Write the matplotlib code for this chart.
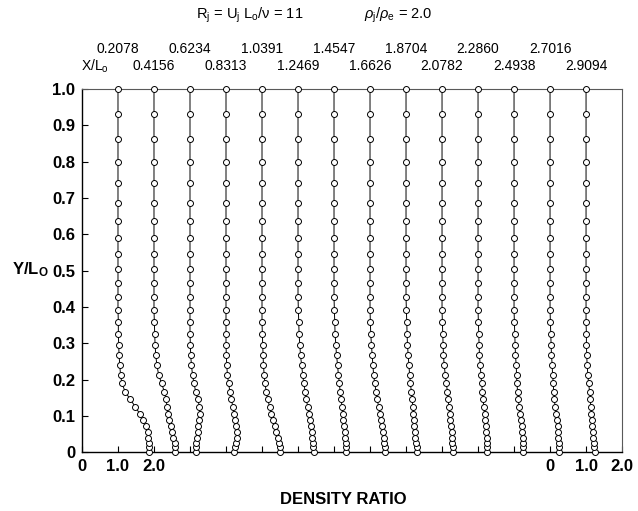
from matplotlib import pyplot as plt
import numpy as np

# Streamwise stations X/Lo, one density profile for each
stations = ["0.2078", "0.4156", "0.6234", "0.8313", "1.0391", "1.2469", "1.4547",
            "1.6626", "1.8704", "2.0782", "2.2860", "2.4938", "2.7016", "2.9094"]

# Y/Lo of the points (wall to free stream)
y_grid = [0.000, 0.014, 0.027, 0.041, 0.056, 0.072, 0.089, 0.107, 0.126, 0.146,
          0.167, 0.190, 0.214, 0.240, 0.267, 0.296, 0.326, 0.358, 0.392, 0.428,
          0.466, 0.506, 0.547, 0.590, 0.636, 0.686, 0.741, 0.800, 0.862, 0.930,
          1.000]

# Density ratio at each station, same order as y_grid
rho_0 = [1.85, 1.86, 1.86, 1.84, 1.82, 1.78, 1.70, 1.60, 1.48, 1.34, 1.20, 1.11,
         1.07, 1.05, 1.03, 1.02, 1.01, 1.01, 1.00, 1.00, 1.00, 1.00, 1.00, 1.00,
         1.00, 1.00, 1.00, 1.00, 1.00, 1.00, 1.00]
rho_1 = [1.58, 1.58, 1.57, 1.54, 1.50, 1.46, 1.42, 1.38, 1.36, 1.34, 1.29, 1.21,
         1.13, 1.08, 1.05, 1.03, 1.02, 1.01, 1.00, 1.00, 1.00, 1.00, 1.00, 1.00,
         1.00, 1.00, 1.00, 1.00, 1.00, 1.00, 1.00]
rho_2 = [1.17, 1.17, 1.18, 1.19, 1.21, 1.23, 1.25, 1.27, 1.26, 1.22, 1.16, 1.11,
         1.07, 1.04, 1.02, 1.01, 1.00, 1.00, 1.00, 1.00, 1.00, 1.00, 1.00, 1.00,
         1.00, 1.00, 1.00, 1.00, 1.00, 1.00, 1.00]
rho_3 = [1.22, 1.26, 1.29, 1.30, 1.30, 1.28, 1.25, 1.22, 1.19, 1.15, 1.11, 1.07,
         1.04, 1.02, 1.01, 1.00, 1.00, 1.00, 1.00, 1.00, 1.00, 1.00, 1.00, 1.00,
         1.00, 1.00, 1.00, 1.00, 1.00, 1.00, 1.00]
rho_4 = [1.50, 1.49, 1.47, 1.44, 1.40, 1.36, 1.31, 1.26, 1.21, 1.16, 1.12, 1.08,
         1.06, 1.04, 1.03, 1.02, 1.01, 1.00, 1.00, 1.00, 1.00, 1.00, 1.00, 1.00,
         1.00, 1.00, 1.00, 1.00, 1.00, 1.00, 1.00]
rho_5 = [1.44, 1.43, 1.41, 1.40, 1.38, 1.36, 1.33, 1.30, 1.27, 1.23, 1.20, 1.16,
         1.13, 1.10, 1.07, 1.05, 1.03, 1.02, 1.01, 1.00, 1.00, 1.00, 1.00, 1.00,
         1.00, 1.00, 1.00, 1.00, 1.00, 1.00, 1.00]
rho_6 = [1.33, 1.33, 1.32, 1.31, 1.30, 1.28, 1.26, 1.24, 1.22, 1.20, 1.17, 1.15,
         1.12, 1.10, 1.07, 1.05, 1.03, 1.02, 1.01, 1.00, 1.00, 1.00, 1.00, 1.00,
         1.00, 1.00, 1.00, 1.00, 1.00, 1.00, 1.00]
rho_7 = [1.42, 1.41, 1.40, 1.38, 1.36, 1.33, 1.30, 1.27, 1.24, 1.20, 1.17, 1.13,
         1.10, 1.08, 1.06, 1.04, 1.02, 1.01, 1.00, 1.00, 1.00, 1.00, 1.00, 1.00,
         1.00, 1.00, 1.00, 1.00, 1.00, 1.00, 1.00]
rho_8 = [1.31, 1.30, 1.28, 1.26, 1.24, 1.22, 1.21, 1.20, 1.19, 1.17, 1.15, 1.12,
         1.10, 1.08, 1.06, 1.04, 1.03, 1.02, 1.01, 1.00, 1.00, 1.00, 1.00, 1.00,
         1.00, 1.00, 1.00, 1.00, 1.00, 1.00, 1.00]
rho_9 = [1.31, 1.30, 1.29, 1.28, 1.27, 1.25, 1.23, 1.21, 1.19, 1.17, 1.15, 1.12,
         1.09, 1.06, 1.04, 1.03, 1.02, 1.01, 1.00, 1.00, 1.00, 1.00, 1.00, 1.00,
         1.00, 1.00, 1.00, 1.00, 1.00, 1.00, 1.00]
rho_10 = [1.25, 1.25, 1.24, 1.24, 1.23, 1.22, 1.20, 1.18, 1.16, 1.14, 1.12, 1.10,
          1.08, 1.06, 1.04, 1.03, 1.02, 1.01, 1.00, 1.00, 1.00, 1.00, 1.00, 1.00,
          1.00, 1.00, 1.00, 1.00, 1.00, 1.00, 1.00]
rho_11 = [1.25, 1.25, 1.24, 1.24, 1.23, 1.22, 1.19, 1.16, 1.14, 1.12, 1.10, 1.08,
          1.07, 1.06, 1.04, 1.03, 1.02, 1.01, 1.00, 1.00, 1.00, 1.00, 1.00, 1.00,
          1.00, 1.00, 1.00, 1.00, 1.00, 1.00, 1.00]
rho_12 = [1.25, 1.24, 1.24, 1.23, 1.23, 1.22, 1.20, 1.17, 1.14, 1.12, 1.10, 1.09,
          1.07, 1.06, 1.04, 1.03, 1.02, 1.01, 1.00, 1.00, 1.00, 1.00, 1.00, 1.00,
          1.00, 1.00, 1.00, 1.00, 1.00, 1.00, 1.00]
rho_13 = [1.25, 1.23, 1.21, 1.20, 1.18, 1.17, 1.16, 1.15, 1.13, 1.12, 1.10, 1.07,
          1.05, 1.03, 1.02, 1.01, 1.01, 1.00, 1.00, 1.00, 1.00, 1.00, 1.00, 1.00,
          1.00, 1.00, 1.00, 1.00, 1.00, 1.00, 1.00]

profiles = [rho_0, rho_1, rho_2, rho_3, rho_4, rho_5, rho_6,
            rho_7, rho_8, rho_9, rho_10, rho_11, rho_12, rho_13]

# Fonts: Helvetica look-alike, mathtext for the subscripts
plt.rcParams["font.family"] = ["Liberation Sans", "DejaVu Sans"]
plt.rcParams["mathtext.fontset"] = "custom"
plt.rcParams["mathtext.rm"] = "Liberation Sans"
plt.rcParams["mathtext.it"] = "Liberation Sans:italic"
plt.rcParams["mathtext.bf"] = "Liberation Sans:bold"

fig = plt.figure(figsize=(6.38, 5.11), dpi=100)
ax = fig.add_axes([0.1285, 0.1145, 0.8465, 0.7115])

# Each profile is shifted one density unit to the right of the previous one
for idx, rho in enumerate(profiles):
    x = idx + np.array(rho)
    ax.plot(x, y_grid, color="black", linewidth=0.7, marker="o",
            markersize=4.3, markerfacecolor="white", markeredgecolor="black",
            markeredgewidth=0.7, clip_on=False, zorder=3)

ax.set_xlim(0, 15)
ax.set_ylim(0, 1.0)

# Y axis ticks
ax.set_yticks(np.arange(0, 1.01, 0.1))
ax.set_yticklabels(["0"] + [f"{v:.1f}" for v in np.arange(0.1, 1.01, 0.1)],
                   fontsize=12, fontweight="bold")

# X axis: scale shown only for the first and the last profile
ax.set_xticks(range(16))
xlabels = [""] * 16
xlabels[0], xlabels[1], xlabels[2] = "0", "1.0", "2.0"
xlabels[13], xlabels[14], xlabels[15] = "0", "1.0", "2.0"
ax.set_xticklabels(xlabels, fontsize=12, fontweight="bold")
ax.tick_params(axis="both", direction="in", length=4, width=0.8, pad=5)

for side in ["left", "bottom"]:
    ax.spines[side].set_linewidth(1.0)
for side in ["top", "right"]:
    ax.spines[side].set_linewidth(0.8)
    ax.spines[side].set_color("0.35")

# Station labels above each profile, alternating in two rows
trans = ax.get_xaxis_transform()
for idx, label in enumerate(stations):
    row_y = 1.110 if idx % 2 == 0 else 1.063
    ax.text(idx + 1, row_y, label, transform=trans, ha="center", va="center",
            fontsize=10)
ax.text(0.36, 1.063, r"X/L$_\mathrm{o}$", transform=trans, ha="center",
        va="center", fontsize=10)

# Axis titles
fig.text(30 / 638, 1 - 270 / 511, r"Y/L$_\mathbf{O}$", ha="center", va="center",
         fontsize=12, fontweight="bold")
fig.text(343 / 638, 1 - 500 / 511, "DENSITY RATIO", ha="center", va="center",
         fontsize=12, fontweight="bold")

# Flow parameters on top
fig.text(250 / 638, 1 - 15 / 511, r"R$_\mathrm{j}$ = U$_\mathrm{j}$ L$_\mathrm{o}$/ν = 11",
         ha="center", va="center", fontsize=10.5)
fig.text(398 / 638, 1 - 15 / 511, r"$\rho_\mathrm{j}/\rho_\mathrm{e}$ = 2.0",
         ha="center", va="center", fontsize=10.5)

fig.savefig("out.png", dpi=100)
